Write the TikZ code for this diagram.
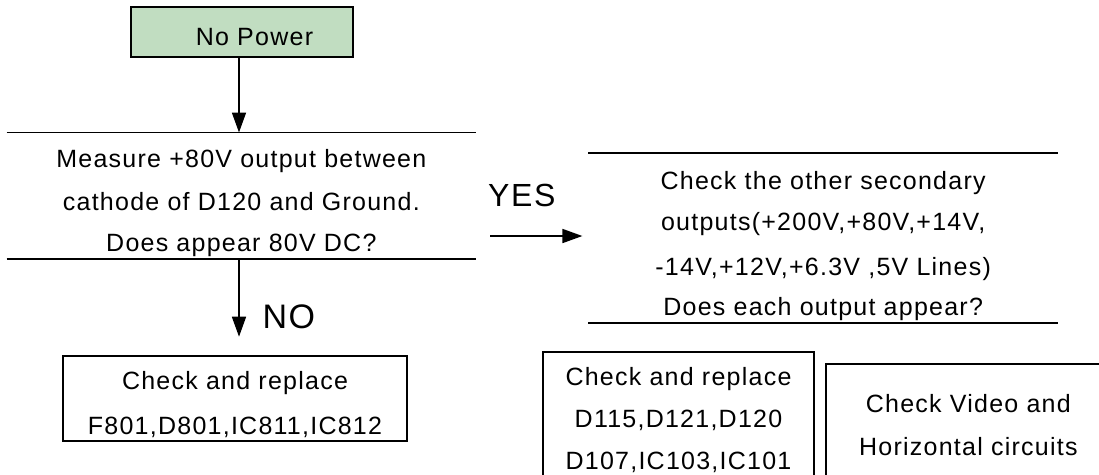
\documentclass[tikz,border=0pt]{standalone}
\usepackage{fontspec}
\setmainfont{Liberation Sans}[LetterSpace=5]
\usetikzlibrary{arrows.meta}
\definecolor{npgreen}{RGB}{193,221,193}
\newcommand{\rowat}[2]{\kern#1\hbox to\hsize{\hss\smash{#2}\hss}}
\newcommand{\stackbox}[3]{\vbox to#2{\offinterlineskip\hsize=#1\relax#3\vss}}
\begin{document}
\begin{tikzpicture}[x=1pt,y=-1pt,
  every node/.style={font=\fontsize{25}{30}\selectfont, inner sep=0pt},
  box/.style={draw, line width=2pt, rectangle},
  rule/.style={line width=1.7pt},
  arr/.style={line width=1.7pt, -{Triangle[length=20pt,width=14pt]}},
  lbl/.style={anchor=base west}]
\useasboundingbox (0,0) rectangle (1099,474);
\clip (0,0) rectangle (1099,474);
\fill[white] (0,0) rectangle (1099,474);

\node[box, fill=npgreen, minimum width=222.6pt, minimum height=50.6pt, text height=27.4pt, text depth=0pt] (np) at (242,32) {\hspace*{25pt}No Power};

\node (d1) at (241.35,195.85) {\stackbox{469.3pt}{126.3pt}{%
  \rowat{34.6pt}{Measure +80V output between}%
  \rowat{42.7pt}{cathode of D120 and Ground.}%
  \rowat{41pt}{Does appear 80V DC?}}};
\draw[rule] (d1.north west) -- (d1.north east);
\draw[rule] (d1.south west) -- (d1.south east);

\node (d2) at (823.15,238) {\stackbox{469.7pt}{169.4pt}{%
  \rowat{35.7pt}{Check the other secondary}%
  \rowat{41pt}{outputs(+200V,+80V,+14V,}%
  \rowat{45.5pt}{-14V,+12V,+6.3V ,5V Lines)}%
  \rowat{39.5pt}{Does each output appear?}}};
\draw[rule] (d2.north west) -- (d2.north east);
\draw[rule] (d2.south west) -- (d2.south east);

\node[box] (b1) at (235,398.5) {\stackbox{344pt}{85pt}{%
  \rowat{33pt}{Check and replace}%
  \rowat{45.3pt}{F801,D801,IC811,IC812}}};

\node[box] (b2) at (678.5,414.85) {\stackbox{270.4pt}{126.3pt}{%
  \rowat{34pt}{Check and replace}%
  \rowat{41.6pt}{D115,D121,D120}%
  \rowat{42.2pt}{D107,IC103,IC101}}};

\node[box] (b3) at (968.35,424) {\stackbox{285.3pt}{120pt}{%
  \rowat{48.3pt}{Check Video and}%
  \rowat{43.4pt}{Horizontal circuits}}};

\draw[arr] ([xshift=-3pt]np.south) -- ([xshift=-3pt]np.south |- d1.north);

\coordinate (noend) at (239,336.7);
\draw[arr] (d1.south -| noend) -- (noend);
\node[lbl, font=\fontsize{34}{40}\selectfont] (no) at (262.3,328.3) {NO};

\node[lbl, font=\fontsize{32}{38}\selectfont] (yes) at (488,206) {YES};
\coordinate (ys) at (490,236);
\draw[arr, shorten >=5.7pt] (ys) -- (ys -| d2.west);
\end{tikzpicture}
\end{document}
